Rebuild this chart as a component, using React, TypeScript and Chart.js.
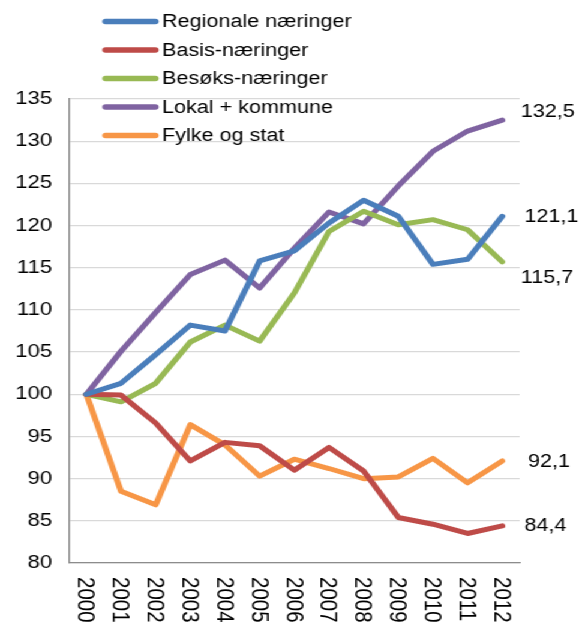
import React, { useEffect, useRef } from "react";
import { Chart, registerables } from "chart.js";

Chart.register(...registerables);

const years = ["2000", "2001", "2002", "2003", "2004", "2005", "2006", "2007", "2008", "2009", "2010", "2011", "2012"];
const regionale = [100, 101.3, 104.7, 108.2, 107.5, 115.8, 117.0, 120.3, 123.0, 121.1, 115.4, 116.0, 121.1];
const basis = [100, 99.9, 96.6, 92.1, 94.3, 93.9, 91.0, 93.7, 90.9, 85.4, 84.6, 83.5, 84.4];
const besoks = [100, 99.1, 101.3, 106.2, 108.2, 106.3, 112.0, 119.3, 121.7, 120.1, 120.7, 119.5, 115.7];
const lokal = [100, 105.1, 109.7, 114.2, 115.9, 112.6, 117.3, 121.6, 120.2, 124.7, 128.8, 131.2, 132.5];
const fylke = [100, 88.5, 86.9, 96.4, 94.0, 90.3, 92.3, 91.2, 90.0, 90.2, 92.4, 89.5, 92.1];

const seriesNames = ["Regionale næringer", "Basis-næringer", "Besøks-næringer", "Lokal + kommune", "Fylke og stat"];
const seriesColors = ["#4A7EBB", "#BE4B48", "#98B954", "#7F63A1", "#F79646"];

const yMin = 80;
const yMax = 135;
const yStep = 5;

// end-of-line value labels: [dataset index, text]
const endLabelSeries = [3, 0, 2, 4, 1];
const endLabelTexts = ["132,5", "121,1", "115,7", "92,1", "84,4"];

const FONT = "'Liberation Sans', Arial, sans-serif";
const STRETCH = 1.2;
const W = Math.round(582 / STRETCH);
const H = 622;

const decorPlugin = {
  id: "decor",
  afterDraw(chart: any) {
    const ctx = chart.ctx;
    const xs = chart.scales.x;
    const area = chart.chartArea;
    ctx.save();
    // x labels, rotated clockwise
    ctx.fillStyle = "#000";
    ctx.font = `20.5px ${FONT}`;
    ctx.textAlign = "left";
    ctx.textBaseline = "middle";
    years.forEach((lab, i) => {
      const x = xs.getPixelForTick(i);
      ctx.save();
      ctx.translate(x - 1, area.bottom + 14);
      ctx.rotate(Math.PI / 2);
      ctx.fillText(lab, 0, 0);
      ctx.restore();
    });
    // legend
    const rowY = [21.5, 50, 78.5, 107, 135.5];
    ctx.font = `18px ${FONT}`;
    seriesNames.forEach((name, i) => {
      const y = rowY[i];
      ctx.strokeStyle = seriesColors[i];
      ctx.lineWidth = 5.5;
      ctx.lineCap = "round";
      ctx.beginPath();
      ctx.moveTo(88, y);
      ctx.lineTo(129.5, y);
      ctx.stroke();
      ctx.fillStyle = "#000";
      ctx.textBaseline = "middle";
      ctx.fillText(name, 135, y + 1);
    });
    // end labels
    const ys = chart.scales.y;
    const dy = [-8, 1, 16, 1, 0];
    const dx = [0, 3, 0, 6, 3];
    ctx.font = `18px ${FONT}`;
    ctx.textBaseline = "middle";
    endLabelSeries.forEach((si, k) => {
      const data = chart.data.datasets[si].data;
      const v = data[data.length - 1];
      const y = ys.getPixelForValue(v) + dy[k];
      ctx.fillText(endLabelTexts[k], area.right + 1 + dx[k], y);
    });
    ctx.restore();
  },
};

export default function App() {
  const ref = useRef<HTMLCanvasElement | null>(null);
  useEffect(() => {
    if (!ref.current) return;
    const all = [regionale, basis, besoks, lokal, fylke];
    const chart = new Chart(ref.current, {
      type: "line",
      data: {
        labels: years,
        datasets: all.map((d, i) => ({
          label: seriesNames[i],
          data: d,
          borderColor: seriesColors[i],
          backgroundColor: seriesColors[i],
          borderWidth: 5,
          pointRadius: 0,
          tension: 0,
          borderCapStyle: "round",
          borderJoinStyle: "round",
          fill: false,
        })),
      },
      options: {
        responsive: false,
        animation: false,
        layout: { padding: { top: 99, right: 52, left: 0, bottom: 0 } },
        plugins: {
          legend: { display: false },
          tooltip: { enabled: false },
          title: { display: false },
        },
        scales: {
          x: {
            type: "category",
            offset: true,
            grid: { display: false, drawTicks: false },
            border: { display: true, color: "#8C8C8C", width: 1.3 },
            ticks: { display: false },
            afterFit: (s: any) => {
              s.height = 59;
            },
          },
          y: {
            min: yMin,
            max: yMax,
            grid: { color: "#D9D9D9", lineWidth: 1.3, drawTicks: false },
            border: { display: true, color: "#8C8C8C", width: 1.3 },
            ticks: {
              stepSize: yStep,
              padding: 14,
              color: "#000",
              font: { family: FONT, size: 18.5 },
            },
            afterFit: (s: any) => {
              s.width = 57.5;
            },
          },
        },
      },
      plugins: [decorPlugin],
    } as any);
    return () => chart.destroy();
  }, []);
  return (
    <div
      style={{
        position: "absolute",
        left: 0,
        top: 0,
        width: W,
        height: H,
        transform: `scaleX(${STRETCH})`,
        transformOrigin: "0 0",
        background: "#fff",
      }}
    >
      <canvas ref={ref} width={W} height={H} style={{ display: "block" }} />
    </div>
  );
}
